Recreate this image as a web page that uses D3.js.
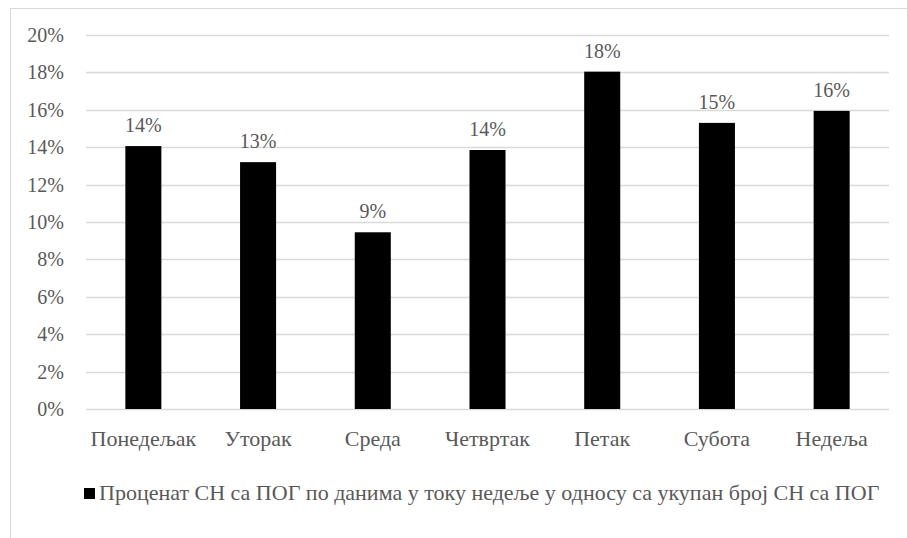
<!DOCTYPE html>
<html lang="sr">
<head>
<meta charset="UTF-8">
<title>Проценат СН са ПОГ по данима</title>
<script src="https://d3js.org/d3.v7.min.js"></script>
<style>
  body { margin: 0; background: #fff; }
</style>
</head>
<body>
<div id="chart"></div>
<script>
// chart data
const days = ["Понедељак", "Уторак", "Среда", "Четвртак", "Петак", "Субота", "Недеља"];
const shares = [0.1406, 0.132, 0.0945, 0.1385, 0.1804, 0.153, 0.1594];
const yTicks = [0, 0.02, 0.04, 0.06, 0.08, 0.10, 0.12, 0.14, 0.16, 0.18, 0.20];
const seriesName = "Проценат СН са ПОГ по данима у току недеље у односу са укупан број СН са ПОГ";

const FONT = "'Liberation Serif', 'DejaVu Serif', serif";
const TEXT = "#595959";

const W = 907, H = 538;
const margin = {top: 35, right: 18, bottom: 129, left: 86};
const width = W - margin.left - margin.right,
      height = H - margin.top - margin.bottom;

const svg = d3.select("#chart").append("svg")
    .attr("width", W).attr("height", H)
    .attr("font-family", FONT);

// outer chart border (right and bottom fall outside the picture)
svg.append("rect")
    .attr("x", 10.5).attr("y", 8.5)
    .attr("width", 1000).attr("height", 1000)
    .attr("fill", "none").attr("stroke", "#d9d9d9");

const g = svg.append("g").attr("transform", `translate(${margin.left},${margin.top})`);

const x = d3.scaleBand().domain(days).range([0, width]).paddingInner(0.686).paddingOuter(0.343);
const y = d3.scaleLinear().domain([0, 0.2]).range([height, 0]);
const fmt = d3.format(".0%");

// gridlines
g.selectAll(".grid").data(yTicks).join("line")
    .attr("x1", 0).attr("x2", width)
    .attr("y1", d => Math.round(y(d)) + 0.5).attr("y2", d => Math.round(y(d)) + 0.5)
    .attr("stroke", "#d9d9d9").attr("stroke-width", 1.3);

// y axis labels
const yAxis = g.append("g").call(d3.axisLeft(y).tickValues(yTicks).tickFormat(fmt).tickSize(0).tickPadding(22));
yAxis.select(".domain").remove();
yAxis.attr("font-family", FONT);
yAxis.selectAll("text").style("font-family", FONT).style("font-size", "20px").attr("fill", TEXT);

// x axis labels
const xAxis = g.append("g").attr("transform", `translate(0,${height})`)
    .call(d3.axisBottom(x).tickSize(0).tickPadding(21));
xAxis.select(".domain").remove();
xAxis.attr("font-family", FONT);
xAxis.selectAll("text").style("font-family", FONT).style("font-size", "22px").attr("fill", TEXT);

// bars
g.selectAll(".bar").data(days).join("rect")
    .attr("x", d => x(d))
    .attr("width", x.bandwidth())
    .attr("y", (d, i) => y(shares[i]))
    .attr("height", (d, i) => height - y(shares[i]))
    .attr("fill", "#000");

// data labels
g.selectAll(".lbl").data(days).join("text")
    .attr("x", d => x(d) + x.bandwidth() / 2)
    .attr("y", (d, i) => y(shares[i]) - 14)
    .attr("text-anchor", "middle")
    .attr("fill", TEXT)
    .style("font-family", FONT).style("font-size", "20px")
    .text((d, i) => fmt(shares[i]));

// legend
const leg = svg.append("g").attr("transform", "translate(84,488)");
leg.append("rect").attr("width", 11).attr("height", 11).attr("fill", "#000");
leg.append("text").attr("x", 15).attr("y", 12)
    .attr("fill", TEXT)
    .style("font-family", FONT).style("font-size", "22px")
    .text(seriesName);
</script>
</body>
</html>
